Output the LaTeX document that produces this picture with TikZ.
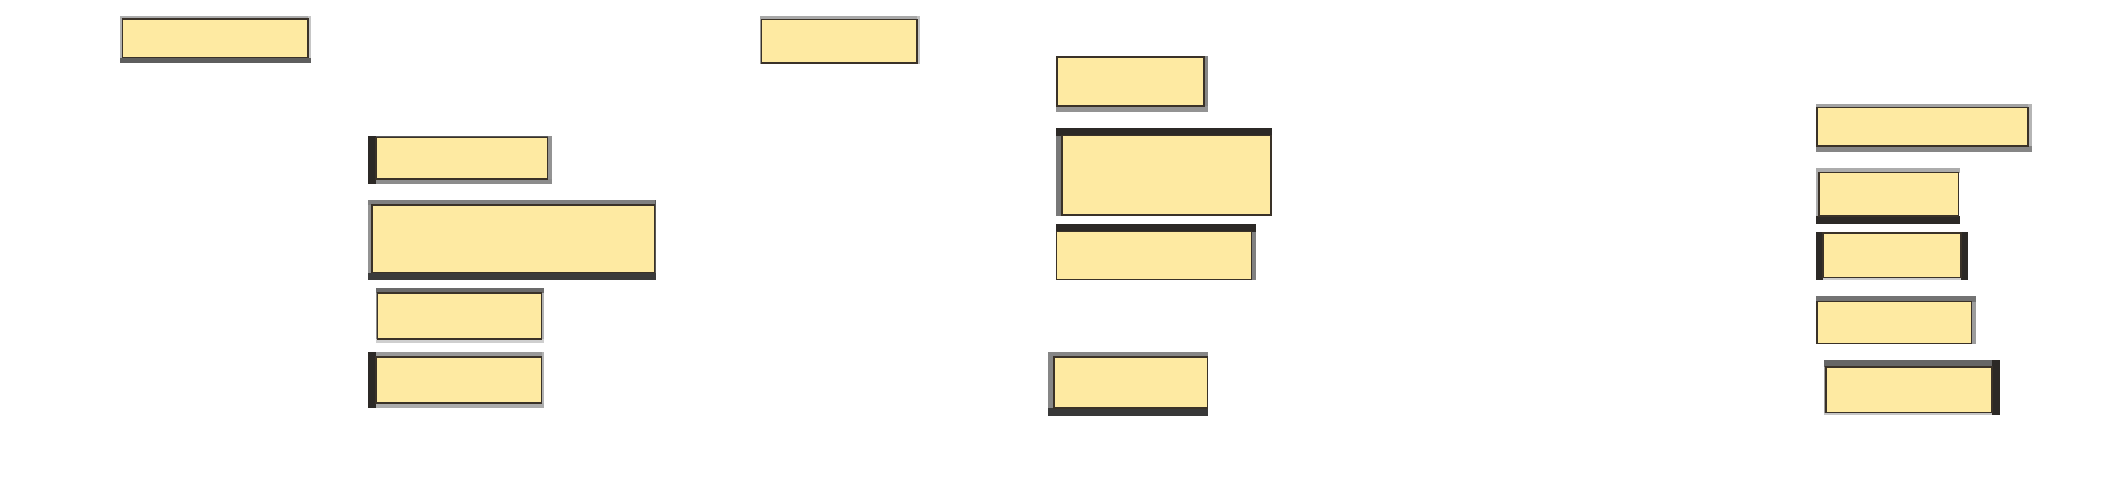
\documentclass[tikz,border=0pt]{standalone}
\usetikzlibrary{fit}
\definecolor{boxfill}{HTML}{FEEAA2}
\definecolor{boxline}{HTML}{3A3228}
\definecolor{gdark}{HTML}{2C2926}
\newcommand{\sq}[5]{\fill[#1] (#2,#3) rectangle (#4,#5);}
\tikzset{
  ybox/.style={draw=boxline, fill=boxfill, line width=1.1pt, inner sep=0pt, outer sep=0pt}
}
\begin{document}
\begin{tikzpicture}[x=1pt,y=-1pt]
\useasboundingbox (0,0) rectangle (2118,488);
% Box 1
\sq{gray!60}{120}{16}{122.5}{63}
\sq{gray!65}{120}{16}{311}{19}
\sq{gray!45}{308}{16}{311}{63}
\sq{black!63}{120}{57.5}{311}{63}
\node[ybox, fit={(122.5,19) (308,57.5)}] (b1) {};
% Box 2
\sq{black!65}{368}{136}{552}{137.5}
\sq{gray!85}{547.5}{136}{552}{184}
\sq{gray!90}{368}{179}{552}{184}
\sq{gdark}{368}{136}{376}{184}
\node[ybox, fit={(376,137.5) (547.5,179)}] (b2) {};
% Box 3
\sq{gray!85}{368}{200}{372}{280}
\sq{black!50}{368}{200}{656}{205}
\sq{black!65}{654.5}{200}{656}{280}
\sq{black!77}{368}{272.5}{656}{280}
\node[ybox, fit={(372,205) (654.5,272.5)}] (b3) {};
% Box 4
\sq{gray!90}{376}{288}{377.5}{343}
\sq{gray!60}{541.5}{288}{544}{343}
\sq{gray!38}{376}{339}{544}{343}
\sq{black!58}{376}{288}{544}{293}
\node[ybox, fit={(377.5,293) (541.5,339)}] (b4) {};
% Box 5
\sq{gray!80}{368}{352}{544}{357}
\sq{gray!60}{541.5}{352}{544}{408}
\sq{gray!65}{368}{403}{544}{408}
\sq{gdark}{368}{352}{376}{408}
\node[ybox, fit={(376,357) (541.5,403)}] (b5) {};
% Box 6
\sq{gray!80}{760}{16}{761.5}{63.5}
\sq{gray!68}{760}{16}{920}{19.5}
\sq{gray!48}{917}{16}{920}{63.5}
\node[ybox, fit={(761.5,19.5) (917,63)}] (b6) {};
% Box 7
\sq{gray!95}{1204}{56}{1208}{112}
\sq{gray!85}{1056}{106}{1208}{112}
\node[ybox, fit={(1057,57) (1204,106)}] (b7) {};
% Box 8
\sq{black!53}{1056}{128}{1062}{216}
\sq{gdark}{1056}{128}{1272}{135.5}
\node[ybox, fit={(1062,135.5) (1271,215)}] (b8) {};
% Box 9
\sq{black!50}{1251.5}{224}{1256}{280}
\sq{gdark}{1056}{224}{1256}{231.5}
\node[ybox, fit={(1056.5,231.5) (1251.5,279.5)}] (b9) {};
% Box 10
\sq{gray!95}{1048}{352}{1054}{416}
\sq{gray!95}{1048}{352}{1208}{357}
\sq{black!78}{1048}{408}{1208}{416}
\node[ybox, fit={(1054,357) (1207.5,408)}] (b10) {};
% Box 11
\sq{gray!75}{1816}{104}{1817}{152}
\sq{gray!72}{1816}{104}{2032}{107.5}
\sq{gray!58}{2028}{104}{2032}{152}
\sq{gray!95}{1816}{146}{2032}{152}
\node[ybox, fit={(1817,107.5) (2028,146)}] (b11) {};
% Box 12
\sq{gray!65}{1816}{168}{1819}{224}
\sq{gray!65}{1816}{168}{1960}{172.5}
\sq{gdark}{1816}{216}{1960}{224}
\node[ybox, fit={(1819,172.5) (1958.5,216)}] (b12) {};
% Box 13
\sq{gray!40}{1816}{277.5}{1968}{280}
\sq{gdark}{1816}{232}{1823}{280}
\sq{gdark}{1961}{232}{1968}{280}
\node[ybox, fit={(1823,233) (1961,277.5)}] (b13) {};
% Box 14
\sq{gray!78}{1971.5}{296}{1976}{344}
\sq{black!55}{1816}{296}{1976}{301.5}
\node[ybox, fit={(1817,301.5) (1971.5,343.5)}] (b14) {};
% Box 15
\sq{gray!75}{1824}{360}{1826}{415}
\sq{gray!45}{1824}{412.5}{2000}{415}
\sq{black!60}{1824}{360}{2000}{367}
\sq{gdark}{1992}{360}{2000}{415}
\node[ybox, fit={(1826,367) (1992,412.5)}] (b15) {};
\end{tikzpicture}
\end{document}
